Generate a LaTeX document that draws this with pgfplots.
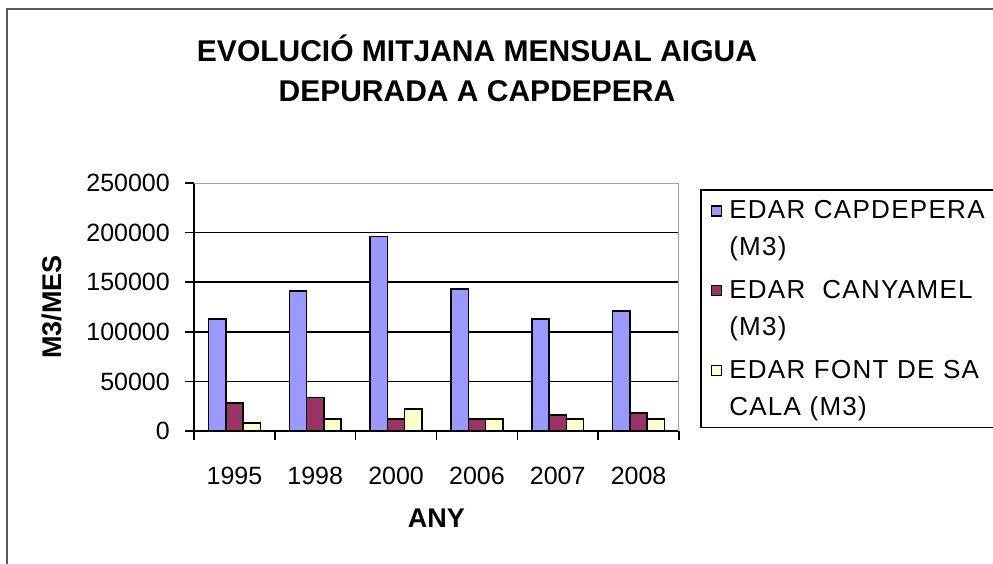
\documentclass[border=0pt]{standalone}
\usepackage{pgfplots}
\pgfplotsset{compat=1.18}
\usepackage{fontspec}
\setmainfont{Liberation Sans}
\newfontfamily\legfont[LetterSpace=5]{Liberation Sans}
\definecolor{cblue}{HTML}{9999FF}
\definecolor{cmaroon}{HTML}{993366}
\definecolor{cyellow}{HTML}{FFFFCC}
\definecolor{frame}{HTML}{5A5A5A}
\definecolor{pborder}{HTML}{A0A0A0}
\begin{document}
\begin{tikzpicture}
\useasboundingbox (0,0) rectangle (993pt,563pt);
\draw[frame, line width=2pt] (7pt,-10pt) -- (7pt,554pt) -- (1010pt,554pt);
\begin{axis}[
  at={(194pt,132pt)}, anchor=south west,
  scale only axis, width=485pt, height=248pt,
  xmin=-0.5, xmax=5.5, ymin=0, ymax=250000,
  axis lines=left, axis line style={-, black, line width=1.6pt},
  ybar=0pt, bar width=17.3pt,
  scaled y ticks=false,
  ytick={0,50000,100000,150000,200000},
  yticklabels={0,50000,100000,150000,200000},
  extra y ticks={250000}, extra y tick labels={250000}, extra y tick style={grid=none},
  ymajorgrids, major grid style={black, line width=1.5pt},
  tick align=outside, major tick length=9pt,
  tick style={black, line width=1.5pt},
  xtick={-0.5,0.5,1.5,2.5,3.5,4.5,5.5},
  xticklabels={\empty,\empty,\empty,\empty,\empty,\empty,\empty},
  extra x ticks={0,1,2,3,4,5},
  extra x tick labels={1995,1998,2000,2006,2007,2008},
  extra x tick style={major tick length=0pt, grid=none},
  tick label style={font=\fontsize{25}{30}\selectfont, inner sep=0pt},
  xticklabel style={anchor=north, yshift=-36pt},
  yticklabel style={anchor=east, xshift=-15pt},
  xlabel={ANY}, ylabel={M3/MES},
  xlabel style={font=\bfseries\fontsize{27}{30}\selectfont, at={(axis description cs:0.5,-0.351)}, anchor=center},
  ylabel style={font=\bfseries\fontsize{27}{30}\selectfont, at={(axis description cs:-0.293,0.5)}, anchor=center},
  title={EVOLUCIÓ MITJANA MENSUAL AIGUA\\DEPURADA A CAPDEPERA},
  title style={font=\bfseries\fontsize{30}{40}\selectfont, align=center, at={(axis description cs:0.5835,1.439)}, anchor=center},
  legend style={at={(axis description cs:1.0433,0.9758)}, anchor=north west, draw=black, line width=1.5pt, fill=white,
    font=\legfont\fontsize{26}{37}\selectfont, cells={align=left}, row sep=19pt, column sep=5pt, inner xsep=10pt, inner ysep=9pt},
  legend cell align=left,
  legend image code/.code={\draw[#1, line width=1.5pt] (0pt,13pt) rectangle (10pt,23pt);},
]
\addplot[draw=black, line width=1.5pt, fill=cblue] coordinates {(0,113000) (1,141000) (2,196000) (3,143000) (4,113000) (5,121000)};
\addplot[draw=black, line width=1.5pt, fill=cmaroon] coordinates {(0,28000) (1,34000) (2,12000) (3,12000) (4,16000) (5,18000)};
\addplot[draw=black, line width=1.5pt, fill=cyellow] coordinates {(0,8000) (1,12000) (2,22000) (3,12000) (4,12000) (5,12000)};
\legend{EDAR CAPDEPERA\\(M3), EDAR\ \ CANYAMEL\\(M3), EDAR FONT DE SA\\CALA (M3)}
\draw[pborder, line width=1.5pt] (rel axis cs:0,1) -- (rel axis cs:1,1) -- (rel axis cs:1,0);
\end{axis}
\end{tikzpicture}
\end{document}
